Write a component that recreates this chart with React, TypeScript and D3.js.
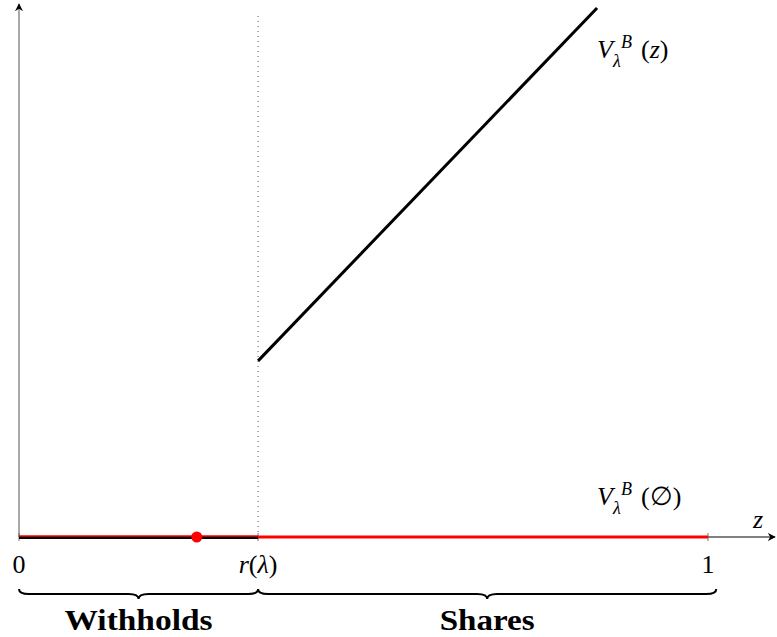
import React from "react";
import * as d3 from "d3";

const xTicks = [0, 0.347, 1];
const xTickLabels = ["0", "r(λ)", "1"];
const rLambda = 0.347;
const dotZ = 0.258;
const lineZ = [0.347, 0.839];
const lineV = [0.333, 1.0];
const braces = [
  { from: 0, to: 0.347, label: "Withholds", width: 148 },
  { from: 0.347, to: 1.012, label: "Shares", width: 95 },
];

const W = 777, H = 637;
const x = d3.scaleLinear().domain([0, 1]).range([19, 708]);
const y = d3.scaleLinear().domain([0, 1]).range([537, 8]);

function bracePath(x1: number, x2: number, yy: number, d: number) {
  const m = (x1 + x2) / 2;
  const q = d / 2;
  return `M${x1},${yy} Q${x1},${yy + q} ${x1 + q * 2},${yy + q} L${m - q * 2},${yy + q} Q${m},${yy + q} ${m},${yy + d} Q${m},${yy + q} ${m + q * 2},${yy + q} L${x2 - q * 2},${yy + q} Q${x2},${yy + q} ${x2},${yy}`;
}

const mathFont = "'Liberation Serif', 'DejaVu Serif', serif";

function VLabel({ x0, base, arg, argItalic }: { x0: number; base: number; arg: string; argItalic: boolean }) {
  return (
    <g fontFamily={mathFont}>
      <text x={x0} y={base} fontSize={26} fontStyle="italic">V</text>
      <text x={x0 + 24} y={base - 10} fontSize={18} fontStyle="italic">B</text>
      <text x={x0 + 16} y={base + 9} fontSize={18} fontStyle="italic">λ</text>
      <text x={x0 + 44} y={base} fontSize={26}>
        (<tspan fontStyle={argItalic ? "italic" : "normal"}>{arg}</tspan>)
      </text>
    </g>
  );
}

export default function App() {
  const line = d3.line<number>().x((_, i) => x(lineZ[i])).y((v) => y(v));
  return (
    <svg width={W} height={H} style={{ position: "absolute", left: 0, top: 0 }}>
      <defs>
        <marker id="arr" viewBox="0 0 10 10" refX="9" refY="5" markerWidth="8" markerHeight="8" orient="auto">
          <path d="M0,0 L10,5 L0,10 L3,5 Z" fill="#000" />
        </marker>
      </defs>
      {/* axes */}
      <line x1={x(0)} y1={y(0)} x2={775} y2={y(0)} stroke="#000" strokeWidth={1} markerEnd="url(#arr)" />
      <line x1={x(0)} y1={y(0)} x2={x(0)} y2={4} stroke="#555" strokeWidth={1} markerEnd="url(#arr)" />
      {/* dotted vertical */}
      <line x1={x(rLambda)} y1={y(0)} x2={x(rLambda)} y2={12} stroke="#555" strokeWidth={1} strokeDasharray="1,4" />
      {/* ticks */}
      {xTicks.map((t, i) => (
        <line key={i} x1={x(t)} x2={x(t)} y1={y(0) - 4} y2={y(0) + 4} stroke="#555" strokeWidth={0.8} />
      ))}
      {/* withholds segment: black with thin red */}
      <line x1={x(0)} x2={x(rLambda)} y1={y(0) + 0.5} y2={y(0) + 0.5} stroke="#000" strokeWidth={3} />
      <line x1={x(0)} x2={x(rLambda)} y1={y(0) - 1} y2={y(0) - 1} stroke="#ff0000" strokeWidth={1.5} />
      <line x1={x(rLambda)} x2={x(1)} y1={y(0)} y2={y(0)} stroke="#ff0000" strokeWidth={3} />
      {/* V(z) line */}
      <path d={line(lineV) || ""} fill="none" stroke="#000" strokeWidth={3} />
      <circle cx={x(dotZ)} cy={y(0)} r={5.5} fill="#ff0000" />
      {/* tick labels */}
      {xTickLabels.map((l, i) => (
        <text key={i} x={x(xTicks[i])} y={573} textAnchor="middle" fontFamily={mathFont} fontSize={26}>
          {i === 1 ? (<><tspan fontStyle="italic">r</tspan>(<tspan fontStyle="italic">λ</tspan>)</>) : l}
        </text>
      ))}
      {/* z label */}
      <text x={758} y={528} textAnchor="middle" fontFamily={mathFont} fontSize={26} fontStyle="italic">z</text>
      {/* V labels */}
      <VLabel x0={597} base={58} arg="z" argItalic={true} />
      <VLabel x0={597} base={505} arg="∅" argItalic={false} />
      {/* braces */}
      {braces.map((b, i) => (
        <g key={i}>
          <path d={bracePath(x(b.from), x(b.to), 589, 10)} fill="none" stroke="#000" strokeWidth={2} />
          <text x={(x(b.from) + x(b.to)) / 2} y={630} textAnchor="middle" fontFamily={mathFont} fontSize={30}
            fontWeight="bold" textLength={b.width} lengthAdjust="spacingAndGlyphs">{b.label}</text>
        </g>
      ))}
    </svg>
  );
}
